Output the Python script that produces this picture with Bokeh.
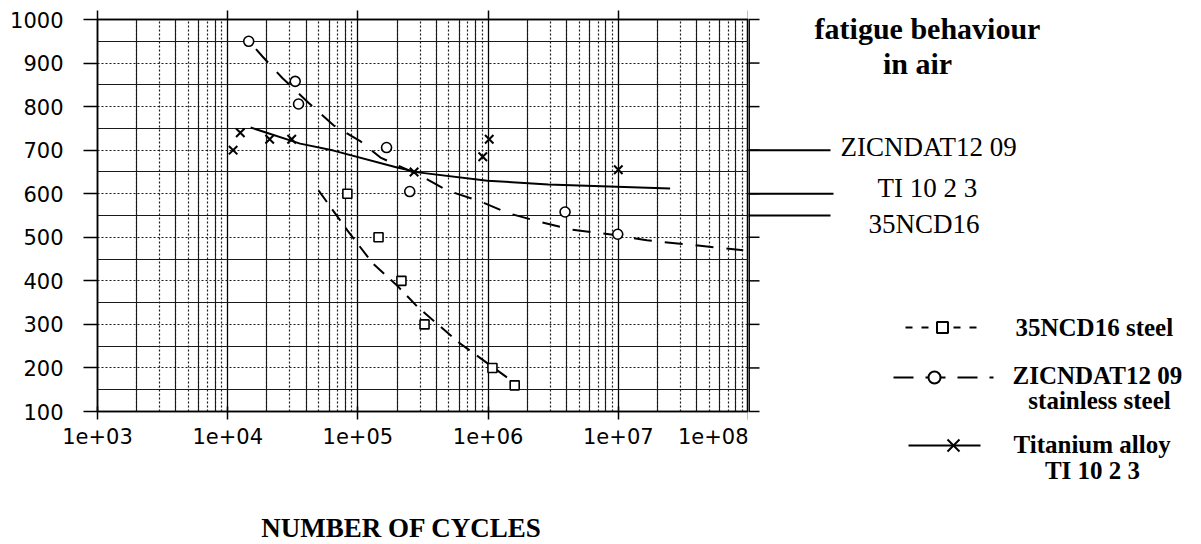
from bokeh.plotting import figure
from bokeh.models import Range1d, FixedTicker, Grid, LinearAxis
from bokeh.layouts import row
from bokeh.embed import file_html
from bokeh.resources import INLINE
from bokeh.core.properties import value

# ---------------- data ----------------
x_tick_values = [1e3, 1e4, 1e5, 1e6, 1e7, 1e8]
x_tick_labels = ["1e+03", "1e+04", "1e+05", "1e+06", "1e+07", "1e+08"]
y_tick_values = [100, 200, 300, 400, 500, 600, 700, 800, 900, 1000]
y_minor_values = [150, 250, 350, 450, 550, 650, 750, 850, 950]

# 35NCD16 steel (squares) and its fitted curve
steel_x = [8.3e4, 1.44e5, 2.16e5, 3.25e5, 1.08e6, 1.6e6]
steel_y = [600, 500, 400, 300, 200, 160]
steel_fit_x = [5.0e4, 8.3e4, 1.3e5, 2.0e5, 2.9e5, 6.1e5, 1.7e6]
steel_fit_y = [607, 516, 440, 389, 339, 256, 160]

# ZICNDAT12 09 stainless steel (circles) and its fitted curve
stainless_x = [1.45e4, 3.3e4, 3.5e4, 1.66e5, 2.5e5, 3.9e6, 9.9e6]
stainless_y = [950, 858, 806, 706, 605, 558, 507]
stainless_fit_x = [1.65e4, 1.85e4, 2.64e4, 4.17e4, 6.5e4, 1.05e5, 1.49e5, 3.0e5,
                   4.9e5, 8.8e5, 1.44e6, 2.45e6, 4.3e6, 9.1e6, 1.66e7, 4.1e7, 9.1e7]
stainless_fit_y = [932, 915, 865, 809, 757, 720, 683, 642,
                   607, 582, 555, 536, 518, 506, 493, 481, 470]

# Titanium alloy TI 10 2 3 (crosses) and its fitted curve
ti_x = [1.1e4, 1.25e4, 2.1e4, 3.1e4, 2.7e5, 9.1e5, 1.02e6, 1.0e7]
ti_y = [700, 740, 725, 725, 650, 685, 725, 655]
ti_fit_x = [1.5e4, 3.6e4, 6.5e4, 2.0e5, 2.9e5, 9.9e5, 2.9e6, 2.5e7]
ti_fit_y = [752, 715, 699, 660, 649, 630, 621, 612]

# right-hand annotations (endurance levels)
annot_labels = ["ZICNDAT12 09", "TI 10 2 3", "35NCD16"]
annot_levels = [700, 600, 550]

title_lines = ["fatigue behaviour", "in air"]
legend_labels = ["35NCD16 steel", "ZICNDAT12 09", "stainless steel", "Titanium alloy", "TI 10 2 3"]
x_label = "NUMBER OF CYCLES"

# ---------------- layout constants ----------------
LEFT, TOP, FW, FH, BOTTOM = 97, 19, 651, 392, 133
MAIN_W = LEFT + FW
Y0, Y1 = 100, 1000
K = (Y1 - Y0) / FH
DECADE_PX = FW / 5.0


def py2y(py):
    return Y1 - (py - TOP) * K


def px2x(px):
    return 10 ** (3 + (px - LEFT) / DECADE_PX)


SERIF = value("Liberation Serif")
SANS = "DejaVu Sans"
OV = dict(level="overlay")

# ---------------- main plot ----------------
p = figure(x_axis_type="log", x_range=Range1d(1e3, 1e8), y_range=Range1d(Y0, Y1),
           frame_width=FW, frame_height=FH,
           min_border_left=LEFT, min_border_right=0, min_border_top=TOP,
           min_border_bottom=BOTTOM, toolbar_location=None, output_backend="svg")
p.background_fill_color = "white"
p.border_fill_color = "white"
p.outline_line_color = "black"
p.outline_line_width = 1.5

x_minor = [m * 10 ** e for e in range(3, 8) for m in range(2, 10)]
x_solid_minor = [m * 10 ** e for e in range(3, 8) for m in (2, 4, 6, 8)]

p.xaxis.ticker = FixedTicker(ticks=x_tick_values, minor_ticks=x_minor)
p.xaxis.major_label_overrides = dict(zip(x_tick_values, x_tick_labels))
p.yaxis.ticker = FixedTicker(ticks=y_tick_values, minor_ticks=y_minor_values)

for ax in (p.xaxis, p.yaxis):
    ax.axis_line_color = "black"
    ax.axis_line_width = 1.5
    ax.major_tick_line_color = "black"
    ax.major_tick_line_width = 1.5
    ax.minor_tick_out = 0
    ax.minor_tick_in = 0
    ax.major_label_text_font = SANS
    ax.major_label_text_font_size = "21px"
    ax.major_label_text_color = "black"

p.yaxis.major_tick_out = 14
p.yaxis.major_tick_in = 0
p.yaxis.major_label_standoff = 20
p.xaxis.major_tick_out = 8
p.xaxis.major_tick_in = 5
p.xaxis.major_label_standoff = 8

# grids
p.xgrid.grid_line_color = "black"
p.xgrid.grid_line_width = 1.3
p.xgrid.minor_grid_line_color = "#1a1a1a"
p.xgrid.minor_grid_line_width = 1.2
p.xgrid.minor_grid_line_dash = "2 2"
p.ygrid.grid_line_color = "#1a1a1a"
p.ygrid.grid_line_width = 1.2
p.ygrid.grid_line_dash = "2 2"
p.ygrid.minor_grid_line_color = "#1a1a1a"
p.ygrid.minor_grid_line_width = 1.2
extra = Grid(dimension=0, ticker=FixedTicker(ticks=x_solid_minor),
             grid_line_color="#1a1a1a", grid_line_width=1.1)
p.add_layout(extra)

# top frame ticks (no labels)
top_ax = LinearAxis(ticker=FixedTicker(ticks=x_tick_values),
                    major_label_overrides={t: "" for t in x_tick_values},
                    major_label_standoff=0, major_tick_out=9, major_tick_in=0,
                    minor_tick_out=0, minor_tick_in=0, axis_line_width=1.5,
                    major_tick_line_width=1.5)
p.add_layout(top_ax, "above")

# series
p.line(steel_fit_x, steel_fit_y, line_color="black", line_width=2, line_dash="14 9")
p.line(stainless_fit_x, stainless_fit_y, line_color="black", line_width=2, line_dash="18 13")
p.line(ti_fit_x, ti_fit_y, line_color="black", line_width=2)
p.scatter(steel_x, steel_y, marker="square", size=9, fill_color="white",
          line_color="black", line_width=1.6)
p.scatter(stainless_x, stainless_y, marker="circle", size=10, fill_color="white",
          line_color="black", line_width=1.6)
p.scatter(ti_x, ti_y, marker="x", size=12, line_color="black", line_width=2)

# x axis title (placed below the axis, slightly left of centre as in the original)
p.text(x=[px2x(401)], y=[py2y(527)], text=[x_label], text_font=SERIF,
       text_font_style="bold", text_font_size="27px", text_align="center",
       text_baseline="alphabetic", text_color="black", **OV)

# ---------------- right panel (same vertical scale as the chart) ----------------
RW = 1201 - MAIN_W
q = figure(width=RW, height=TOP + FH + BOTTOM, x_range=Range1d(MAIN_W, 1201),
           y_range=Range1d(Y0, Y1), min_border_left=0, min_border_right=0,
           min_border_top=TOP, min_border_bottom=BOTTOM,
           x_axis_location=None, y_axis_location=None,
           toolbar_location=None, output_backend="svg")
q.grid.visible = False
q.outline_line_color = None
q.background_fill_color = "white"
q.border_fill_color = "white"

# right frame edge and its ticks
q.segment(x0=[MAIN_W + 0.7], x1=[MAIN_W + 0.7], y0=[Y0], y1=[Y1],
          line_color="black", line_width=1.5, **OV)
q.segment(x0=[MAIN_W] * len(y_tick_values), x1=[MAIN_W + 11] * len(y_tick_values),
          y0=y_tick_values, y1=y_tick_values, line_color="black", line_width=1.5, **OV)

# title
q.text(x=[927, 917], y=[py2y(28), py2y(63)], text=title_lines, text_font=SERIF,
       text_font_style="bold", text_font_size="30px", text_align="center",
       text_baseline="alphabetic", text_color="black", **OV)

# leader lines + labels
q.segment(x0=[MAIN_W] * 3, x1=[830, 833, 830], y0=annot_levels, y1=annot_levels,
          line_color="black", line_width=2, **OV)
q.text(x=[840, 877, 868], y=[py2y(146), py2y(187), py2y(223)], text=annot_labels,
       text_font=SERIF, text_font_size="27px", text_align="left",
       text_baseline="alphabetic", text_color="black", **OV)

# legend samples
q.line(x=[905, 980], y=[py2y(327)] * 2, line_color="black", line_width=2,
       line_dash="7 9", **OV)
q.scatter(x=[942], y=[py2y(327)], marker="square", size=11, fill_color="white",
          line_color="black", line_width=2, **OV)
q.line(x=[893, 993], y=[py2y(377)] * 2, line_color="black", line_width=2,
       line_dash="20 12", **OV)
q.scatter(x=[934], y=[py2y(377)], marker="circle", size=12, fill_color="white",
          line_color="black", line_width=2, **OV)
q.line(x=[908, 980], y=[py2y(445)] * 2, line_color="black", line_width=2, **OV)
# cross symbol of the titanium sample (drawn as two strokes)
q.line(x=[947, 959], y=[py2y(439), py2y(451)], line_color="black", line_width=2, **OV)
q.line(x=[947, 959], y=[py2y(451), py2y(439)], line_color="black", line_width=2, **OV)

q.text(x=[1015, 1012, 1099, 1013, 1092],
       y=[py2y(327), py2y(375), py2y(400), py2y(444), py2y(470)],
       text=legend_labels, text_font=SERIF, text_font_style="bold",
       text_font_size="25px", text_align=["left", "left", "center", "left", "center"],
       text_baseline="alphabetic", text_color="black", **OV)

layout = row(p, q)
open("out.html", "w").write(file_html(layout, INLINE))
